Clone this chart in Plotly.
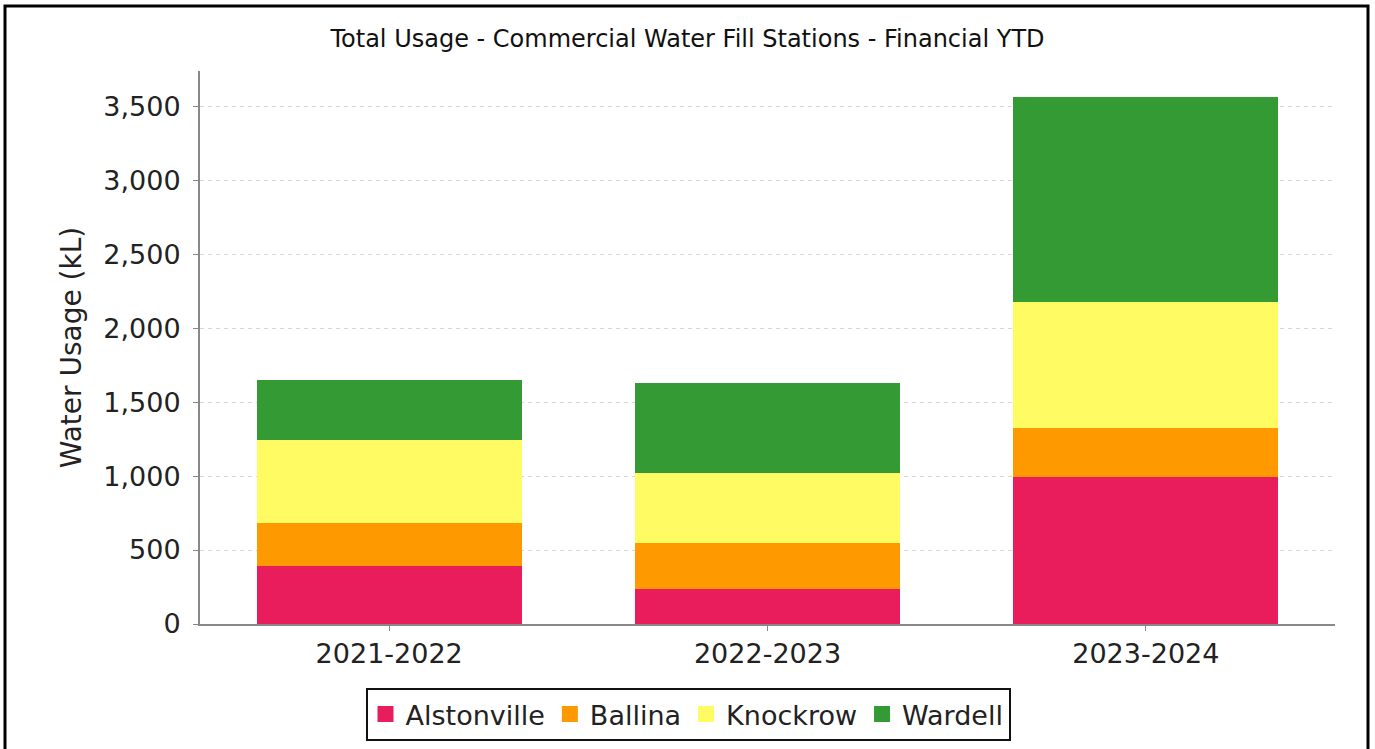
import plotly.graph_objects as go

# --- Data (kL) ---
years = ["2021-2022", "2022-2023", "2023-2024"]
alstonville = [392, 239, 992]
ballina = [293, 309, 333]
knockrow = [559, 475, 854]
wardell = [403, 606, 1386]

y_ticks = [0, 500, 1000, 1500, 2000, 2500, 3000, 3500]

series = [
    ("Alstonville", alstonville, "#E91C5C"),
    ("Ballina", ballina, "#FF9900"),
    ("Knockrow", knockrow, "#FFFC63"),
    ("Wardell", wardell, "#349A34"),
]

W, H = 1375, 749
L, R, T, B = 200, 40, 71, 125
pw, ph = W - L - R, H - T - B


def px_x(x):
    return (x - L) / pw


def px_y(y):
    return (H - B - y) / ph


fig = go.Figure()

for name, vals, color in series:
    fig.add_trace(go.Bar(x=years, y=vals, name=name, marker_color=color,
                         marker_line_width=0, showlegend=False, legendgroup=name))
    # legend-only entry so the swatch can be drawn as a larger square
    fig.add_trace(go.Scatter(x=[None], y=[None], mode="markers", name=name,
                             legendgroup=name,
                             marker=dict(symbol="square", size=16, color=color,
                                         line=dict(width=0))))

fig.update_layout(
    width=W, height=H,
    barmode="stack", bargap=0.3,
    paper_bgcolor="white", plot_bgcolor="white",
    margin=dict(l=L, r=R, t=T, b=B, autoexpand=False),
    font=dict(family="DejaVu Sans", size=24, color="#222222"),
    title=dict(text="Total Usage - Commercial Water Fill Stations - Financial YTD",
               x=0.5, xref="container", xanchor="center",
               y=1 - 39 / H, yref="container", yanchor="middle",
               font=dict(family="DejaVu Sans", size=24, color="#111111")),
    legend=dict(orientation="h", x=px_x(688), xanchor="center",
                y=px_y(688), yanchor="top",
                bordercolor="#111111", borderwidth=2, bgcolor="white",
                font=dict(family="DejaVu Sans", size=27, color="#222222"),
                itemclick=False, itemdoubleclick=False),
    showlegend=True,
)

fig.update_xaxes(
    type="category", showgrid=False, showline=True, linecolor="#888888", linewidth=2,
    ticks="outside", ticklen=5, tickcolor="#888888", tickwidth=1,
    tickfont=dict(family="DejaVu Sans", size=27, color="#222222"),
    ticklabelstandoff=0, automargin=False, fixedrange=True,
)

fig.update_yaxes(
    range=[0, 3738], tickvals=y_ticks, tickformat=",d",
    showgrid=True, gridcolor="#d6d6d6", griddash="4px,4px", gridwidth=1,
    zeroline=False, showline=True, linecolor="#888888", linewidth=2,
    ticks="outside", ticklen=5, tickcolor="#888888", tickwidth=1,
    tickfont=dict(family="DejaVu Sans", size=27, color="#222222"),
    ticklabelstandoff=7,
    title=dict(text="Water Usage (kL)", standoff=14,
               font=dict(family="DejaVu Sans", size=28, color="#222222")),
    automargin=False, fixedrange=True,
)

# black frame around the whole chart (bottom edge falls outside the window)
fig.add_shape(type="rect", xref="paper", yref="paper",
              x0=px_x(5), x1=px_x(1368), y0=px_y(770), y1=px_y(6),
              line=dict(color="black", width=3), fillcolor="rgba(0,0,0,0)",
              layer="above")

fig.write_html("out.html", config={"displayModeBar": False},
               post_script="document.body.style.margin='0';")
